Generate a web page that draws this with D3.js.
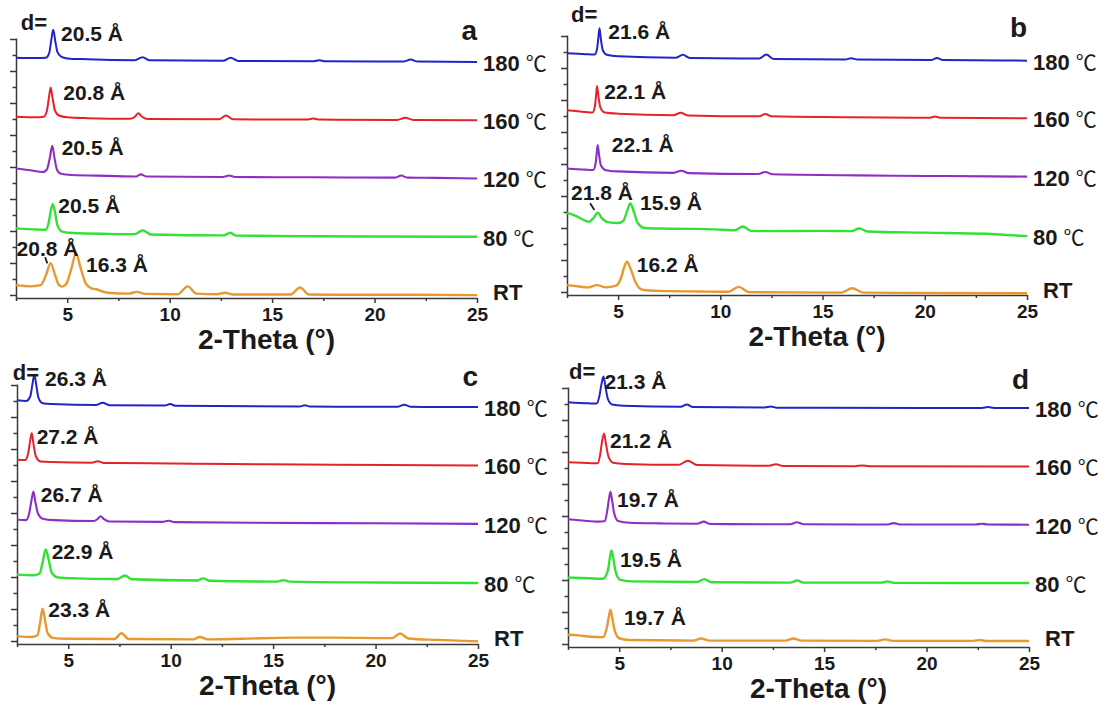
<!DOCTYPE html>
<html>
<head>
<meta charset="utf-8">
<script src="https://cdn.jsdelivr.net/npm/d3@7"></script>
<style>
  body { margin: 0; background: #fff; }
  text { font-family: "Liberation Sans", Arial, sans-serif; font-weight: bold; fill: #1a1a1a; }
</style>
</head>
<body>
<div id="chart"></div>
<script>
// stacked XRD patterns, [2-theta, intensity a.u.] ; each curve is shifted by its offset
const temps = ['RT', '80', '120', '160', '180'];
const offsets = [0, 100, 200, 300, 400];
const xDomain = [2.5, 25];
const xTicks = [5, 10, 15, 20, 25];
const xMinorTicks = [2.5, 7.5, 12.5, 17.5, 22.5];
const yTicks = d3.range(0, 17);

// panel a
const aRT = [[2.5,22],[3.2,20],[3.7,22],[3.95,38],[4.19,59.5],[4.4,40],[4.6,22],[4.75,19.5],[4.95,24],[5.2,50],[5.43,77],[5.65,52],[5.9,25],[6.15,17],[6.4,15],[7,9],[8.0,7.5],[8.4,10.5],[8.8,7],[10.4,6.5],[10.88,20],[11.3,7.5],[12.3,6.5],[12.7,9],[13.1,6],[15.9,6],[16.36,18],[16.8,6],[19,5.5],[22,5.5],[25,5]];
const a80 = [[2.5,19.5],[3.5,17.5],[3.95,17],[4.1,30],[4.2,50],[4.29,61],[4.4,48],[4.52,25],[4.75,14],[5.3,11.5],[7,10],[8.3,9.5],[8.68,16],[9.1,9],[12.65,7.5],[12.95,12],[13.25,7],[17,6],[20,5.5],[25,5]];
const a120 = [[2.5,22],[3.2,19],[3.8,16],[4.0,20],[4.15,40],[4.27,61],[4.38,40],[4.5,20],[4.7,13],[5.2,11],[7,9.5],[8.35,8.5],[8.6,12],[8.85,8.5],[12.6,7.5],[12.9,10],[13.2,7.5],[17,7],[21.0,6.5],[21.3,10],[21.6,6.5],[23,6],[25,5]];
const a160 = [[2.5,11],[3.5,10],[3.85,11],[4.0,20],[4.1,42],[4.19,61],[4.29,42],[4.4,22],[4.6,13],[5.0,10],[6,8.5],[8.05,7.5],[8.3,11],[8.47,17],[8.65,11],[8.95,7],[12.4,6.5],[12.75,13],[13.1,6.5],[16.7,6],[17.0,8],[17.3,6],[21.1,5.5],[21.5,9],[21.9,5.5],[25,5]];
const a180 = [[2.5,12],[3.5,11.5],[3.95,12],[4.12,20],[4.22,42],[4.32,60],[4.42,40],[4.52,22],[4.7,14],[5.0,11],[6,9.5],[8.3,8],[8.68,13],[9.0,8],[12.6,7],[12.98,12],[13.35,6.5],[17.0,6],[17.3,8],[17.6,6],[21.4,5.5],[21.76,9],[22.1,5.5],[25,5]];
const aLabels = [['d=',2.73,459.7],['20.5 Å',4.70,440.8],['20.8 Å',4.81,339.6],['20.5 Å',4.73,245.3],['20.5 Å',4.56,145.8],['20.8 Å',2.53,72],['16.3 Å',5.92,44.6]];
const aPointers = [[[3.92,69.8],[4.03,59.5]]];

// panel b
const bRT = [[2.5,17],[3.0,15],[3.5,13],[3.97,17],[4.4,13],[4.9,16],[5.15,30],[5.3,48],[5.43,57],[5.6,46],[5.85,22],[6.2,9],[7,7],[9,6],[10.4,5.5],[10.9,14],[11.4,5],[13,4.5],[15.9,4],[16.45,11.5],[17.0,4],[20,3.5],[25,3]];
const b80 = [[2.5,41],[2.9,36],[3.3,29],[3.55,25.5],[3.8,32],[4.0,41],[4.2,32],[4.5,25],[5.0,23.5],[5.25,27],[5.45,45],[5.6,57],[5.75,45],[5.95,24],[6.3,15],[7,14],[8.5,13.5],[9.8,12.5],[10.7,11],[11.1,17.5],[11.5,10],[12.5,9.5],[15,10],[16.4,9.5],[16.8,14],[17.2,9],[20,7],[23,5],[24,3],[25,1]];
const b120 = [[2.5,17],[3.4,15],[3.78,14.5],[3.9,26],[3.95,42],[4.0,57],[4.07,40],[4.16,22],[4.4,14],[5,12],[7.7,9.5],[8.1,13],[8.45,9],[11.85,7.5],[12.2,11],[12.55,7],[16,5.5],[18.5,4.5],[21,4],[25,3]];
const b160 = [[2.5,17],[3.4,14],[3.75,13],[3.87,25],[3.92,42],[3.97,58.5],[4.04,40],[4.13,22],[4.35,13],[5,11],[7.7,8.5],[8.07,12.5],[8.4,8],[11.9,6.5],[12.2,10.5],[12.5,6.5],[16,5],[20.2,4],[20.5,6],[20.8,4],[25,3]];
const b180 = [[2.5,14.5],[3.4,13],[3.85,12.5],[3.97,22],[4.03,40],[4.09,57.5],[4.16,38],[4.25,20],[4.45,12],[5,9.5],[7.8,7],[8.17,12],[8.5,6.5],[11.9,5.5],[12.25,12.5],[12.6,5],[16.1,4],[16.4,6],[16.7,4],[20.3,3],[20.6,6.5],[20.9,3],[25,2]];
const bLabels = [['d=',2.70,468.3],['21.6 Å',4.52,439.1],['22.1 Å',4.32,336.2],['22.1 Å',4.69,246.1],['21.8 Å',2.70,163],['15.9 Å',6.07,145.8],['16.2 Å',5.91,40.3]];
const bPointers = [[[3.63,157.3],[3.84,145.8]]];

// panel c
const cRT = [[2.5,13],[3.2,12],[3.5,15],[3.62,35],[3.75,60.5],[3.88,38],[4.0,18],[4.3,10],[5,9],[7.25,8.5],[7.6,18.5],[7.95,8.5],[11.1,8],[11.43,12],[11.8,8],[13.5,9],[16,11],[18,11],[20.8,10],[21.2,18],[21.6,9.5],[23,7],[25,4.5]];
const c80 = [[2.5,19],[3.3,18],[3.6,21],[3.75,40],[3.9,62],[4.05,44],[4.2,22],[4.5,14],[5,13],[7.4,11.5],[7.77,17.5],[8.1,11],[11.3,9],[11.6,12.5],[11.9,8.5],[15.2,7],[15.5,9.5],[15.8,7],[20,5.5],[25,4.6]];
const c120 = [[2.5,13],[2.95,12.5],[3.1,25],[3.2,45],[3.3,61.5],[3.4,43],[3.52,24],[3.75,15],[4.3,12.5],[6.25,11],[6.45,15],[6.58,19],[6.75,14],[7.0,10],[9.6,9.5],[9.9,11.5],[10.2,9],[14,8],[20,7],[25,6]];
const c160 = [[2.5,16],[2.9,15.5],[3.05,28],[3.14,48],[3.22,62],[3.31,42],[3.42,22],[3.65,13],[4.2,12],[6.15,11],[6.44,13.5],[6.75,10.5],[9,10],[13,8.7],[18,7.5],[25,6.3]];
const c180 = [[2.5,18],[2.95,17],[3.15,25],[3.25,45],[3.35,62],[3.45,42],[3.55,22],[3.75,13],[4.2,11.5],[6.35,10],[6.68,14],[7.0,9.5],[9.7,9],[9.97,11.5],[10.25,8.5],[16.3,7.5],[16.55,9.5],[16.8,7.5],[19,7],[21.1,7],[21.4,10.5],[21.7,7],[23,6.5],[25,6.5]];
const cLabels = [['d=',2.29,452.8],['26.3 Å',3.87,441.7],['27.2 Å',3.46,343],['26.7 Å',3.66,244.4],['22.9 Å',4.19,145.8],['23.3 Å',4.03,46.3]];

// panel d
const dRT = [[2.5,21],[3.0,20],[3.6,17.5],[4.2,17],[4.4,34],[4.5,53],[4.57,64],[4.66,50],[4.78,28],[5.0,15],[5.5,12],[8.6,11],[9.0,14.5],[9.4,11],[13.1,11],[13.5,14.5],[13.9,11],[17.6,10.5],[17.97,13],[18.35,10.5],[22.3,10.5],[22.6,12],[22.9,10.3],[25,10.3]];
const d80 = [[2.5,19],[3.5,18],[4.2,17],[4.45,32],[4.54,52],[4.62,65.5],[4.71,52],[4.82,30],[5.05,15],[5.6,12.5],[8.8,11.5],[9.16,16.5],[9.5,11],[13.35,10.5],[13.68,14],[14.0,10.5],[17.8,10.5],[18.1,12.5],[18.4,10],[25,9.8]];
const d120 = [[2.5,19],[3.2,17],[4.0,15],[4.3,16],[4.42,35],[4.5,54],[4.57,66],[4.65,52],[4.75,30],[4.95,16],[5.5,13],[7,12],[8.8,11.5],[9.12,15],[9.45,11],[13.35,10.5],[13.68,14],[14.0,10.5],[18.1,10],[18.4,12.5],[18.7,10],[22.4,10],[22.7,11.5],[23.0,10],[25,9.8]];
const d160 = [[2.5,17],[3.5,15.5],[3.95,15],[4.07,30],[4.16,52],[4.26,66],[4.36,47],[4.48,26],[4.7,16],[5.3,14],[7.9,12.5],[8.35,19.5],[8.8,12],[12.3,11],[12.65,13.5],[13.0,10.5],[16.5,10],[16.85,11.5],[17.2,10],[25,9.8]];
const d180 = [[2.5,20],[3.5,18],[3.9,17.5],[4.03,30],[4.13,50],[4.23,64],[4.33,46],[4.45,25],[4.65,16],[5.2,14],[8.0,12],[8.3,16],[8.6,11.5],[12.1,11],[12.4,12.5],[12.7,10.5],[20,10],[22.7,10],[23,11.5],[23.3,10],[25,10]];
const dLabels = [['d=',2.55,459.7],['21.3 Å',4.28,442.5],['21.2 Å',4.55,341.3],['19.7 Å',4.89,240.1],['19.5 Å',5.04,137.2],['19.7 Å',5.23,36.9]];

const colors = ['#e8982e', '#33e035', '#8f2ec6', '#e62229', '#2323c6'];
const widths = [2.4, 2.4, 2.1, 2, 2];
const unitPx = 0.583;

const panels = [
  {name: 'a', left: 16, right: 477, axisY: 298, series: [aRT, a80, a120, a160, a180], labels: aLabels, pointers: aPointers},
  {name: 'b', left: 567, right: 1027, axisY: 295, series: [bRT, b80, b120, b160, b180], labels: bLabels, pointers: bPointers},
  {name: 'c', left: 17, right: 478, axisY: 644, series: [cRT, c80, c120, c160, c180], labels: cLabels, pointers: []},
  {name: 'd', left: 568, right: 1029, axisY: 647, series: [dRT, d80, d120, d160, d180], labels: dLabels, pointers: []}
];

const svg = d3.select('#chart').append('svg')
  .attr('width', 1109)
  .attr('height', 706);

panels.forEach(drawPanel);

function drawPanel(p) {
  const x = d3.scaleLinear().domain(xDomain).range([p.left, p.right]);
  const y = d3.scaleLinear().domain([0, 450]).range([p.axisY, p.axisY - 450 * unitPx]);
  // left axis carries unlabeled ticks every 16 px
  const ty = d3.scaleLinear().domain([-3 / 16, 16 + 1 / 16]).range([p.axisY, p.axisY - 260]);

  const g = svg.append('g');

  // Y axis, major + minor
  g.append('g')
    .attr('class', 'y axis')
    .attr('transform', `translate(${p.left},0)`)
    .call(d3.axisLeft(ty).tickValues(yTicks.filter(v => v % 2 === 0)).tickSize(6).tickSizeOuter(0).tickFormat(''));
  g.append('g')
    .attr('class', 'y axis minor')
    .attr('transform', `translate(${p.left},0)`)
    .call(d3.axisLeft(ty).tickValues(yTicks.filter(v => v % 2 === 1)).tickSize(3.5).tickFormat(''))
    .call(a => a.select('.domain').remove());

  // X axis, major + minor
  g.append('g')
    .attr('class', 'x axis minor')
    .attr('transform', `translate(0,${p.axisY})`)
    .call(d3.axisBottom(x).tickValues(xMinorTicks).tickSize(3).tickFormat(''))
    .call(a => a.select('.domain').remove());
  g.append('g')
    .attr('class', 'x axis')
    .attr('transform', `translate(0,${p.axisY})`)
    .call(d3.axisBottom(x).tickValues(xTicks).tickSize(5).tickSizeOuter(0).tickPadding(5))
    .call(a => a.selectAll('text')
      .style('font-size', '19px')
      .style('font-family', '"Liberation Sans", Arial, sans-serif')
      .style('font-weight', 'bold')
      .attr('fill', '#1a1a1a'));

  g.selectAll('.axis path, .axis line')
    .attr('stroke', '#3a3a3a')
    .attr('stroke-width', 1.5);

  // axis title
  g.append('text')
    .attr('x', (p.left + p.right) / 2 + 20)
    .attr('y', p.axisY + 51)
    .attr('text-anchor', 'middle')
    .style('font-size', '28px')
    .text('2-Theta (°)');

  // curves
  const line = d3.line()
    .x(d => x(d[0]))
    .y(d => y(d[1]))
    .curve(d3.curveMonotoneX);

  p.series.forEach((s, i) => {
    g.append('path')
      .datum(s.map(d => [d[0], d[1] + offsets[i]]))
      .attr('fill', 'none')
      .attr('stroke', colors[i])
      .attr('stroke-width', widths[i])
      .attr('stroke-linejoin', 'round')
      .attr('d', line);

    // temperature label at the right end of the curve
    const last = s[s.length - 1];
    const lbl = g.append('text')
      .attr('x', p.right + (i === 0 ? 16 : 6))
      .attr('y', y(last[1] + offsets[i]) + (i === 0 ? 5 : 9))
      .style('font-size', '22px');
    if (i === 0) {
      lbl.text(temps[i]);
    } else {
      lbl.append('tspan').text(temps[i] + ' ');
      lbl.append('tspan')
        .style('font-family', '"Noto Sans CJK SC", "DejaVu Sans", sans-serif')
        .style('font-weight', 'normal')
        .style('font-size', '21px')
        .text('℃');
    }
  });

  // d-spacing labels
  p.labels.forEach(l => {
    g.append('text')
      .attr('x', x(l[1]))
      .attr('y', y(l[2]))
      .style('font-size', l[0] === 'd=' ? '22px' : '21px')
      .text(l[0]);
  });

  p.pointers.forEach(pt => {
    g.append('line')
      .attr('x1', x(pt[0][0])).attr('y1', y(pt[0][1]))
      .attr('x2', x(pt[1][0])).attr('y2', y(pt[1][1]))
      .attr('stroke', '#1a1a1a')
      .attr('stroke-width', 1.8);
  });

  // panel letter
  g.append('text')
    .attr('x', p.right)
    .attr('y', y(442))
    .attr('text-anchor', 'end')
    .style('font-size', '28px')
    .text(p.name);
}
</script>
</body>
</html>
